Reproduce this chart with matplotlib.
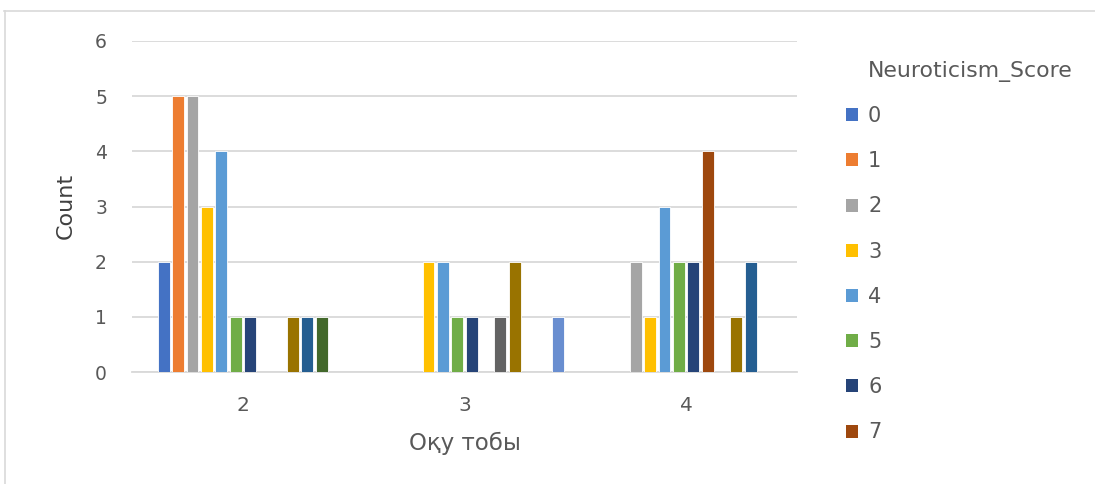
#!/usr/bin/env python3
# -*- coding: utf-8 -*-
"""Grouped bar chart: Neuroticism_Score counts by study group (Оқу тобы)."""
import numpy as np
import matplotlib
matplotlib.use("Agg")
import matplotlib.pyplot as plt
from matplotlib.patches import Patch
from matplotlib.lines import Line2D

plt.rcParams['font.family'] = ['DejaVu Sans']

# ---------- data ----------
groups = ["2", "3", "4"]
scores = [str(s) for s in range(13)]
# counts[score] -> values for groups 2, 3, 4
counts = {
    "0":  [2, 0, 0],
    "1":  [5, 0, 0],
    "2":  [5, 0, 2],
    "3":  [3, 2, 1],
    "4":  [4, 2, 3],
    "5":  [1, 1, 2],
    "6":  [1, 1, 2],
    "7":  [0, 0, 4],
    "8":  [0, 1, 0],
    "9":  [1, 2, 1],
    "10": [1, 0, 2],
    "11": [1, 0, 0],
    "12": [0, 1, 0],
}
colors = ["#4472C4", "#ED7D31", "#A5A5A5", "#FFC000", "#5B9BD5", "#70AD47",
          "#264478", "#9E480E", "#636363", "#997300", "#255E91", "#43682B",
          "#698ED0"]
legend_shown = 8   # legend is cut off after "7" in the original

W, H = 1095, 484
fig = plt.figure(figsize=(W / 100, H / 100), dpi=100)

# chart border (top + left, light grey)
fig.add_artist(Line2D([4 / W, 1], [1 - 11 / H, 1 - 11 / H], color="#d9d9d9", lw=1.2))
fig.add_artist(Line2D([5 / W, 5 / W], [0, 1 - 11 / H], color="#d9d9d9", lw=1.2))

# plot area in pixels
x0, x1 = 132, 797
y_top, y_bot = 41, 372
ax = fig.add_axes([x0 / W, 1 - y_bot / H, (x1 - x0) / W, (y_bot - y_top) / H])

x = np.arange(len(groups))
step = 0.0647
first = -0.356
bw = 0.053
for i, s in enumerate(scores):
    ax.bar(x + first + i * step, counts[s], width=bw, color=colors[i],
           edgecolor="white", linewidth=0.6, zorder=3)

ax.set_xlim(-0.5, len(groups) - 0.5)
ax.set_ylim(0, 6)
ax.set_yticks(range(7))
ax.set_xticks(x)
ax.set_xticklabels(groups)
ax.yaxis.grid(True, color="#d9d9d9", lw=1.3, zorder=0)
for sp in ["top", "right", "left"]:
    ax.spines[sp].set_visible(False)
ax.spines["bottom"].set_color("#d9d9d9")
ax.spines["bottom"].set_linewidth(1.3)
ax.tick_params(axis="both", length=0, colors="#595959")
ax.tick_params(axis="y", pad=18, labelsize=13.5)
ax.tick_params(axis="x", pad=17, labelsize=14.5)

ax.set_ylabel("Count", fontsize=16, color="#404040")
ax.yaxis.set_label_coords((66 - x0) / (x1 - x0), 0.503)
ax.yaxis.label.set_va("center")
ax.set_xlabel("Оқу тобы", fontsize=16.5, color="#595959")
ax.xaxis.set_label_coords(0.5, -(443 - y_bot) / (y_bot - y_top))
ax.xaxis.label.set_va("center")

# legend
handles = [Patch(facecolor=colors[i], edgecolor="none", label=scores[i])
           for i in range(legend_shown)]
fig.text(868 / W, 1 - 71 / H, "Neuroticism_Score", fontsize=15.8,
         color="#595959", va="center", ha="left")
leg = fig.legend(handles=handles, loc="upper left",
                 bbox_to_anchor=(846 / W, 1 - 106 / H), frameon=False,
                 fontsize=15, labelcolor="#595959", handlelength=0.58,
                 handleheight=0.58, handletextpad=0.48, labelspacing=1.21,
                 borderaxespad=0, borderpad=0)

fig.savefig("out.png", dpi=100)
